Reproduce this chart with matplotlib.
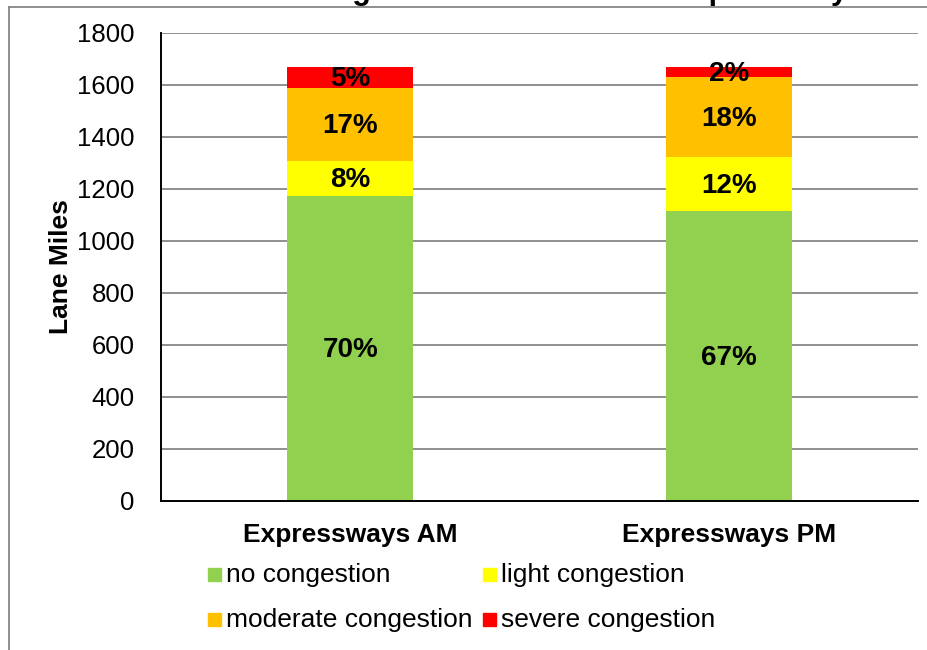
import matplotlib

matplotlib.use("Agg")
import matplotlib.pyplot as plt
from matplotlib.lines import Line2D
from matplotlib.patches import Rectangle

plt.rcParams["font.family"] = ["Liberation Sans", "DejaVu Sans"]

# lane miles by congestion level
periods = ["Expressways AM", "Expressways PM"]
levels = ["no congestion", "light congestion", "moderate congestion", "severe congestion"]
colors = ["#92D050", "#FFFF00", "#FFC000", "#FF0000"]
am_miles = [1172, 135, 282, 80]
pm_miles = [1114, 208, 308, 39]
yticks = [0, 200, 400, 600, 800, 1000, 1200, 1400, 1600, 1800]

W, H = 928, 650
fig = plt.figure(figsize=(W / 100, H / 100), dpi=100)
ax = fig.add_axes([161 / W, 1 - 501 / H, (918 - 161) / W, (501 - 33) / H])

x = range(len(periods))
series = list(zip(am_miles, pm_miles))
bottoms = [0, 0]
totals = [sum(am_miles), sum(pm_miles)]
for vals, color in zip(series, colors):
    ax.bar(x, vals, width=0.333, bottom=bottoms, color=color, zorder=3)
    for i, v in enumerate(vals):
        ax.text(i, bottoms[i] + v / 2 - 6, f"{round(100 * v / totals[i])}%",
                ha="center", va="center", fontsize=20, fontweight="bold",
                color="black", zorder=4)
    bottoms = [b + v for b, v in zip(bottoms, vals)]

ax.set_xlim(-0.5, 1.5)
ax.set_ylim(0, 1800)
ax.set_yticks(yticks)
ax.set_yticklabels([str(t) for t in yticks], fontsize=18.5)
ax.set_xticks(list(x))
ax.set_xticklabels(periods, fontsize=19, fontweight="bold")
ax.tick_params(axis="y", length=0, pad=19)
ax.tick_params(axis="x", length=0, pad=16)
ax.grid(axis="y", color="#8f8f8f", lw=1.4, zorder=0)
ax.set_axisbelow(True)
for s in ("top", "right"):
    ax.spines[s].set_visible(False)
for s in ("left", "bottom"):
    ax.spines[s].set_color("black")
    ax.spines[s].set_linewidth(1.4)
    ax.spines[s].set_zorder(5)
ax.set_ylabel("Lane Miles", fontsize=19, fontweight="bold", labelpad=3)

# legend, two rows by two columns
leg_x = [208, 483]
leg_y = [575, 620]
for k, (label, color) in enumerate(zip(levels, colors)):
    lx, ly = leg_x[k % 2], leg_y[k // 2]
    fig.patches.append(Rectangle((lx / W, 1 - (ly + 6) / H), 13 / W, 13 / H,
                                 transform=fig.transFigure, color=color))
    fig.text((lx + 18) / W, 1 - ly / H, label, fontsize=19, ha="left", va="center")

# title, mostly above the top edge
fig.text(478 / W, 1 + 1 / H, "Lane Miles of Congestion on Monitored Expressways",
         fontsize=22, fontweight="bold", ha="center", va="baseline")

# chart area border
fig.add_artist(Line2D([9 / W, 1], [1 - 7 / H, 1 - 7 / H], transform=fig.transFigure,
                      color="#868686", lw=1.3))
fig.add_artist(Line2D([9 / W, 9 / W], [1 - 7 / H, 0], transform=fig.transFigure,
                      color="#868686", lw=1.3))

fig.savefig("out.png", dpi=100)
